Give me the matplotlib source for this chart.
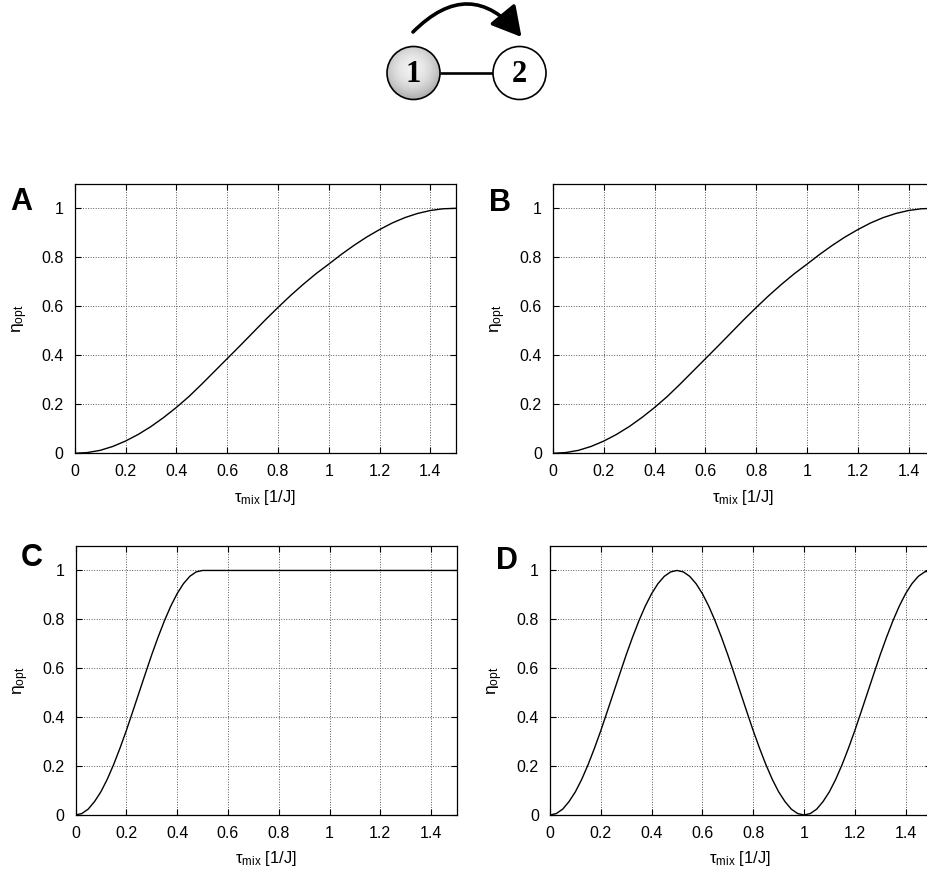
import numpy as np
import matplotlib
matplotlib.use("Agg")
import matplotlib.pyplot as plt
from matplotlib.patches import Circle, FancyArrowPatch

plt.rcParams['font.family'] = ['Liberation Sans', 'DejaVu Sans']
plt.rcParams['mathtext.fontset'] = 'custom'
plt.rcParams['mathtext.rm'] = 'Liberation Sans'
plt.rcParams['mathtext.it'] = 'Liberation Sans:italic'

# ---- data ---------------------------------------------------------------
# mixing time grid for panels A and B (step 0.05)
tau_ab = [0.00, 0.05, 0.10, 0.15, 0.20, 0.25, 0.30, 0.35, 0.40, 0.45,
          0.50, 0.55, 0.60, 0.65, 0.70, 0.75, 0.80, 0.85, 0.90, 0.95,
          1.00, 1.05, 1.10, 1.15, 1.20, 1.25, 1.30, 1.35, 1.40, 1.45, 1.50]
eta_a = [0.000, 0.003, 0.012, 0.028, 0.050, 0.077, 0.109, 0.146, 0.187, 0.232,
         0.282, 0.334, 0.386, 0.438, 0.491, 0.544, 0.595, 0.644, 0.690, 0.733,
         0.772, 0.812, 0.849, 0.883, 0.913, 0.940, 0.962, 0.979, 0.991, 0.998, 1.000]
eta_b = [0.000, 0.003, 0.012, 0.028, 0.050, 0.077, 0.109, 0.146, 0.187, 0.232,
         0.282, 0.334, 0.386, 0.438, 0.491, 0.544, 0.595, 0.644, 0.690, 0.733,
         0.772, 0.812, 0.849, 0.883, 0.913, 0.940, 0.962, 0.979, 0.991, 0.998, 1.000]

# panel C: rise until 0.5, then a plateau
tau_c = [0.000, 0.025, 0.050, 0.075, 0.100, 0.125, 0.150, 0.175, 0.200, 0.225,
         0.250, 0.275, 0.300, 0.325, 0.350, 0.375, 0.400, 0.425, 0.450, 0.475,
         0.500, 1.500]
eta_c = [0.000, 0.006, 0.024, 0.055, 0.095, 0.146, 0.206, 0.273, 0.345, 0.422,
         0.500, 0.578, 0.655, 0.727, 0.794, 0.854, 0.905, 0.946, 0.976, 0.994,
         1.000, 1.000]

# panel D: oscillating transfer (step 0.025)
tau_d = [0.000, 0.025, 0.050, 0.075, 0.100, 0.125, 0.150, 0.175, 0.200, 0.225,
         0.250, 0.275, 0.300, 0.325, 0.350, 0.375, 0.400, 0.425, 0.450, 0.475,
         0.500, 0.525, 0.550, 0.575, 0.600, 0.625, 0.650, 0.675, 0.700, 0.725,
         0.750, 0.775, 0.800, 0.825, 0.850, 0.875, 0.900, 0.925, 0.950, 0.975,
         1.000, 1.025, 1.050, 1.075, 1.100, 1.125, 1.150, 1.175, 1.200, 1.225,
         1.250, 1.275, 1.300, 1.325, 1.350, 1.375, 1.400, 1.425, 1.450, 1.475,
         1.500]
eta_d = [0.000, 0.006, 0.024, 0.055, 0.095, 0.146, 0.206, 0.273, 0.345, 0.422,
         0.500, 0.578, 0.655, 0.727, 0.794, 0.854, 0.905, 0.946, 0.976, 0.994,
         1.000, 0.994, 0.976, 0.946, 0.905, 0.854, 0.794, 0.727, 0.655, 0.578,
         0.500, 0.422, 0.345, 0.273, 0.206, 0.146, 0.095, 0.055, 0.024, 0.006,
         0.000, 0.006, 0.024, 0.055, 0.095, 0.146, 0.206, 0.273, 0.345, 0.422,
         0.500, 0.578, 0.655, 0.727, 0.794, 0.854, 0.905, 0.946, 0.976, 0.994,
         1.000]

xticks = [0, 0.2, 0.4, 0.6, 0.8, 1.0, 1.2, 1.4]
xtick_labels = ["0", "0.2", "0.4", "0.6", "0.8", "1", "1.2", "1.4"]
yticks = [0, 0.2, 0.4, 0.6, 0.8, 1.0]
ytick_labels = ["0", "0.2", "0.4", "0.6", "0.8", "1"]
panel_letters = ["A", "B", "C", "D"]

# ---- figure -------------------------------------------------------------
W, H = 927, 869
fig = plt.figure(figsize=(W / 100, H / 100), dpi=100)


def px_rect(left, top, right, bottom):
    return [left / W, 1 - bottom / H, (right - left) / W, (bottom - top) / H]


rects = [px_rect(74.7, 183.8, 455.7, 453.3),
         px_rect(553.0, 183.8, 934.0, 453.3),
         px_rect(75.5, 546.0, 456.5, 815.0),
         px_rect(550.0, 546.0, 931.0, 815.0)]
series = [(tau_ab, eta_a), (tau_ab, eta_b), (tau_c, eta_c), (tau_d, eta_d)]

for rect, (tx, ty) in zip(rects, series):
    ax = fig.add_axes(rect)
    ax.plot(tx, ty, color='black', lw=1.0, zorder=3)
    ax.set_xlim(0, 1.5)
    ax.set_ylim(0, 1.1)
    ax.set_xticks(xticks)
    ax.set_xticklabels(xtick_labels)
    ax.set_yticks(yticks)
    ax.set_yticklabels(ytick_labels)
    ax.grid(True, color='0.35', linestyle=(0, (1, 1.6)), lw=0.7)
    ax.tick_params(direction='in', length=4, width=0.8, top=True, right=True,
                   labelsize=11.5, pad=8, colors='black')
    for sp in ax.spines.values():
        sp.set_linewidth(0.9)
        sp.set_color('black')
    ax.set_xlabel("τ$_{\\rm mix}$ [1/J]", fontsize=12, labelpad=6)
    ax.set_ylabel("η$_{\\rm opt}$", fontsize=12.5, labelpad=8)

# panel letters
letter_pos = [(21, 202), (500, 203), (32, 558), (507, 561)]
for (lx, ly), letter in zip(letter_pos, panel_letters):
    fig.text(lx / W, 1 - ly / H, letter, fontsize=22, fontweight='bold',
             ha='center', va='center')

# ---- two-spin transfer diagram ------------------------------------------
dax = fig.add_axes([0, 0, 1, 1], zorder=0)
dax.set_xlim(0, W)
dax.set_ylim(H, 0)
dax.axis('off')
dax.patch.set_alpha(0)

R = 26.5
c1 = (413.5, 73.0)
c2 = (519.5, 73.0)

# bond between spins
dax.plot([c1[0] + R, c2[0] - R], [c1[1], c1[1]], color='black', lw=1.9,
         solid_capstyle='butt', zorder=1)

# shaded spin 1
n = 200
gx, gy = np.meshgrid(np.linspace(-1, 1, n), np.linspace(-1, 1, n))
d2 = (gx + 0.05) ** 2 + (gy + 0.15) ** 2
shade = np.clip(0.94 - 0.2 * d2, 0, 1)
img = dax.imshow(shade, cmap='gray', vmin=0, vmax=1, origin='upper',
                 extent=(c1[0] - R, c1[0] + R, c1[1] + R, c1[1] - R),
                 aspect='auto', interpolation='bilinear', zorder=2)
circ1 = Circle(c1, R, facecolor='none', edgecolor='black', lw=1.2, zorder=3)
dax.add_patch(circ1)
img.set_clip_path(Circle(c1, R, transform=dax.transData))

circ2 = Circle(c2, R, facecolor='white', edgecolor='black', lw=1.2, zorder=3)
dax.add_patch(circ2)

for (cx, cy), label in zip([c1, c2], ["1", "2"]):
    dax.text(cx, cy + 1, label, family=['Liberation Serif', 'DejaVu Serif'],
             fontsize=22, fontweight='bold', ha='center', va='center', zorder=4)

# curved transfer arrow
arrow = FancyArrowPatch((413.0, 32.0), (521.5, 37.0),
                        connectionstyle="arc3,rad=-0.55",
                        arrowstyle="-|>,head_length=0.9,head_width=0.5",
                        mutation_scale=20, lw=2.6, color='black',
                        shrinkA=0, shrinkB=0, zorder=4)
dax.add_patch(arrow)

fig.savefig("out.png", dpi=100)
